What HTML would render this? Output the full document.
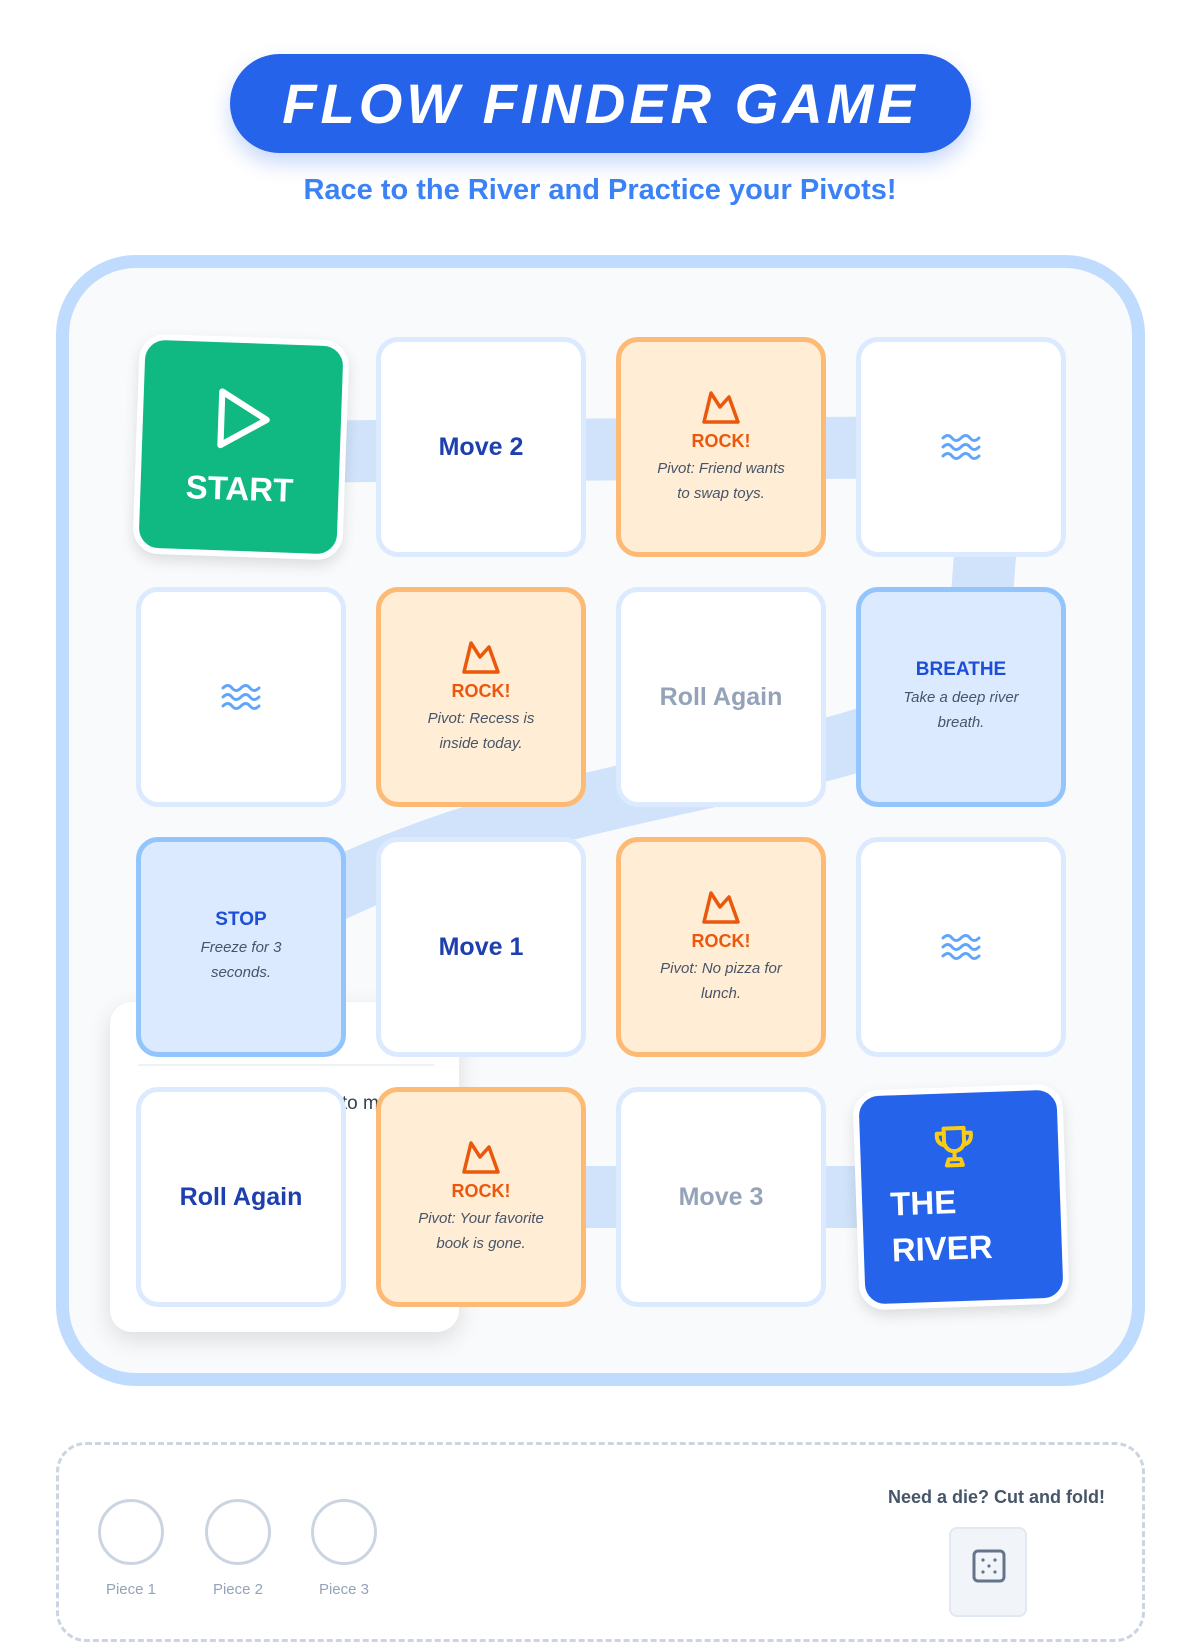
<!DOCTYPE html>
<html><head><meta charset="utf-8">
<style>
*{margin:0;padding:0;box-sizing:border-box}
body{width:1200px;height:1600px;background:#fff;font-family:"Liberation Sans",sans-serif;position:relative;overflow:hidden}
.pill{position:absolute;left:230px;top:54px;width:741px;height:99px;border-radius:50px;background:#2563eb;box-shadow:0 10px 20px rgba(37,99,235,.25);color:#fff;font-weight:900;font-style:italic;font-size:56px;letter-spacing:4px;text-align:center;line-height:99px}
.sub{position:absolute;left:0;width:1200px;top:174px;text-align:center;color:#3b82f6;font-size:29px;font-weight:bold}
.board{position:absolute;left:56px;top:255px;width:1089px;height:1131px;border:13px solid #bfdbfe;border-radius:80px;background:#f8fafc}
.tile{position:absolute;width:210px;height:220px;border:5px solid #dbeafe;border-radius:22px;background:#fff;display:flex;flex-direction:column;align-items:center;justify-content:center;text-align:center}
.big{font-size:25px;font-weight:bold;color:#1e40af}
.gray{font-size:25px;font-weight:bold;color:#94a3b8}
.rock{background:#ffedd5;border-color:#fdba74}
.rock b{color:#ea580c;font-size:18px;margin-top:6px}
.rock i,.blue i{color:#475569;font-size:15px;line-height:25px;margin-top:4px;padding:0 30px}
.blue{background:#dbeafe;border-color:#93c5fd}
.blue b{color:#1d4ed8;font-size:19px}
.blue i{padding:0 38px}
.pop{position:absolute;left:110px;top:1002px;width:349px;height:330px;background:#fff;border-radius:22px;box-shadow:0 8px 24px rgba(0,0,0,.12);padding:62px 10px 0 28px;font-size:19px;color:#334155;line-height:27px;white-space:nowrap;overflow:hidden}
.pop hr{border:none;border-top:2px solid #eef2f7;margin:0 15px 24px 0}
</style></head><body>
<div class="pill">FLOW FINDER GAME</div>
<div class="sub">Race to the River and Practice your Pivots!</div>
<div class="board"></div>
<svg style="position:absolute;left:0;top:0" width="1200" height="1600">
<g fill="none" stroke="#d0e3fa" stroke-width="62" stroke-linejoin="round">
<path d="M241,452 L961,447 L985,555 L975,690 C820,790 520,770 241,940"/>
<path d="M241,1197 L961,1197"/>
</g></svg>
<div class="pop"><hr>1. Use a die to see how to move.<br>2. Land on a rock? You<br>&nbsp;&nbsp;&nbsp;must say a way to a<br>&nbsp;&nbsp;&nbsp;find a new pivot<br>&nbsp;&nbsp;&nbsp;and feel good<br>&nbsp;&nbsp;&nbsp;about it before<br>&nbsp;&nbsp;&nbsp;you move on st<br>3. Reach the river wins!</div>
<!-- row1 -->
<div class="tile" style="left:136px;top:337px;background:#10b981;border:6px solid #fff;transform:rotate(2deg);box-shadow:0 6px 14px rgba(0,0,0,.12);border-radius:26px">
<svg width="62" height="66" viewBox="0 0 60 64"><path d="M10,6 L54,32 L10,58 Z" fill="none" stroke="#fff" stroke-width="6" stroke-linejoin="round"/></svg>
<div style="color:#fff;font-size:33px;font-weight:900;margin-top:18px">START</div></div>
<div class="tile" style="left:376px;top:337px"><span class="big">Move 2</span></div>
<div class="tile rock" style="left:616px;top:337px"><svg width="40" height="36" viewBox="0 0 40 36"><path d="M3,33 L10,4 L19,18 L28,8 L37,33 Z" fill="none" stroke="#ea580c" stroke-width="3.5" stroke-linejoin="round"/></svg><b>ROCK!</b><i>Pivot: Friend wants to swap toys.</i></div>
<div class="tile" style="left:856px;top:337px"><svg width="40" height="30" viewBox="0 0 40 30"><g fill="none" stroke="#60a5fa" stroke-width="3" stroke-linecap="round"><path d="M2,6 q5,-5 9,0 t9,0 t9,0 t9,0"/><path d="M2,15 q5,-5 9,0 t9,0 t9,0 t9,0"/><path d="M2,24 q5,-5 9,0 t9,0 t9,0 t9,0"/></g></svg></div>
<!-- row2 -->
<div class="tile" style="left:136px;top:587px"><svg width="40" height="30" viewBox="0 0 40 30"><g fill="none" stroke="#60a5fa" stroke-width="3" stroke-linecap="round"><path d="M2,6 q5,-5 9,0 t9,0 t9,0 t9,0"/><path d="M2,15 q5,-5 9,0 t9,0 t9,0 t9,0"/><path d="M2,24 q5,-5 9,0 t9,0 t9,0 t9,0"/></g></svg></div>
<div class="tile rock" style="left:376px;top:587px"><svg width="40" height="36" viewBox="0 0 40 36"><path d="M3,33 L10,4 L19,18 L28,8 L37,33 Z" fill="none" stroke="#ea580c" stroke-width="3.5" stroke-linejoin="round"/></svg><b>ROCK!</b><i>Pivot: Recess is inside today.</i></div>
<div class="tile" style="left:616px;top:587px"><span class="gray">Roll Again</span></div>
<div class="tile blue" style="left:856px;top:587px"><b>BREATHE</b><i style="padding:0 28px">Take a deep river breath.</i></div>
<!-- row3 -->
<div class="tile blue" style="left:136px;top:837px"><b>STOP</b><i>Freeze for 3 seconds.</i></div>
<div class="tile" style="left:376px;top:837px"><span class="big">Move 1</span></div>
<div class="tile rock" style="left:616px;top:837px"><svg width="40" height="36" viewBox="0 0 40 36"><path d="M3,33 L10,4 L19,18 L28,8 L37,33 Z" fill="none" stroke="#ea580c" stroke-width="3.5" stroke-linejoin="round"/></svg><b>ROCK!</b><i>Pivot: No pizza for lunch.</i></div>
<div class="tile" style="left:856px;top:837px"><svg width="40" height="30" viewBox="0 0 40 30"><g fill="none" stroke="#60a5fa" stroke-width="3" stroke-linecap="round"><path d="M2,6 q5,-5 9,0 t9,0 t9,0 t9,0"/><path d="M2,15 q5,-5 9,0 t9,0 t9,0 t9,0"/><path d="M2,24 q5,-5 9,0 t9,0 t9,0 t9,0"/></g></svg></div>
<!-- row4 -->
<div class="tile" style="left:136px;top:1087px"><span class="big">Roll Again</span></div>
<div class="tile rock" style="left:376px;top:1087px"><svg width="40" height="36" viewBox="0 0 40 36"><path d="M3,33 L10,4 L19,18 L28,8 L37,33 Z" fill="none" stroke="#ea580c" stroke-width="3.5" stroke-linejoin="round"/></svg><b>ROCK!</b><i>Pivot: Your favorite book is gone.</i></div>
<div class="tile" style="left:616px;top:1087px"><span class="gray">Move 3</span></div>
<div class="tile" style="left:856px;top:1087px;background:#2563eb;border:6px solid #fff;transform:rotate(-2deg);box-shadow:0 6px 14px rgba(0,0,0,.12);border-radius:26px;align-items:flex-start;padding-left:28px;text-align:left">
<svg style="margin-left:42px" width="48" height="48" viewBox="0 0 48 48"><g fill="none" stroke="#facc15" stroke-width="4" stroke-linejoin="round" stroke-linecap="round"><path d="M14,5 H34 V18 A10,10 0 0 1 14,18 Z"/><path d="M14,10 H7 Q6,20 15,22"/><path d="M34,10 H41 Q42,20 33,22"/><path d="M24,28 V36"/><path d="M16,42 H32 L30,36 H18 Z"/></g></svg>
<div style="color:#fff;font-size:33px;font-weight:900;line-height:46px;margin-top:8px">THE<br>RIVER</div></div>
<!-- bottom -->
<div style="position:absolute;left:56px;top:1442px;width:1089px;height:200px;border:3px dashed #cbd5e1;border-radius:30px"></div>
<div style="position:absolute;left:98px;top:1499px;width:66px;height:66px;border:3px solid #cbd5e1;border-radius:50%"></div>
<div style="position:absolute;left:205px;top:1499px;width:66px;height:66px;border:3px solid #cbd5e1;border-radius:50%"></div>
<div style="position:absolute;left:311px;top:1499px;width:66px;height:66px;border:3px solid #cbd5e1;border-radius:50%"></div>
<div style="position:absolute;left:98px;top:1581px;width:66px;text-align:center;font-size:15px;color:#94a3b8">Piece 1</div>
<div style="position:absolute;left:205px;top:1581px;width:66px;text-align:center;font-size:15px;color:#94a3b8">Piece 2</div>
<div style="position:absolute;left:311px;top:1581px;width:66px;text-align:center;font-size:15px;color:#94a3b8">Piece 3</div>
<div style="position:absolute;left:800px;width:305px;top:1487px;text-align:right;font-size:18px;font-weight:bold;color:#475569">Need a die? Cut and fold!</div>
<div style="position:absolute;left:949px;top:1527px;width:78px;height:90px;background:#f1f5f9;border:2px solid #e2e8f0;border-radius:8px"></div>
<svg style="position:absolute;left:972px;top:1549px" width="34" height="34" viewBox="0 0 34 34"><rect x="2" y="2" width="30" height="30" rx="4" fill="none" stroke="#64748b" stroke-width="3"/><g fill="#64748b"><circle cx="11" cy="11" r="1.6"/><circle cx="23" cy="11" r="1.6"/><circle cx="17" cy="17" r="1.6"/><circle cx="11" cy="23" r="1.6"/><circle cx="23" cy="23" r="1.6"/></g></svg>
</body></html>
